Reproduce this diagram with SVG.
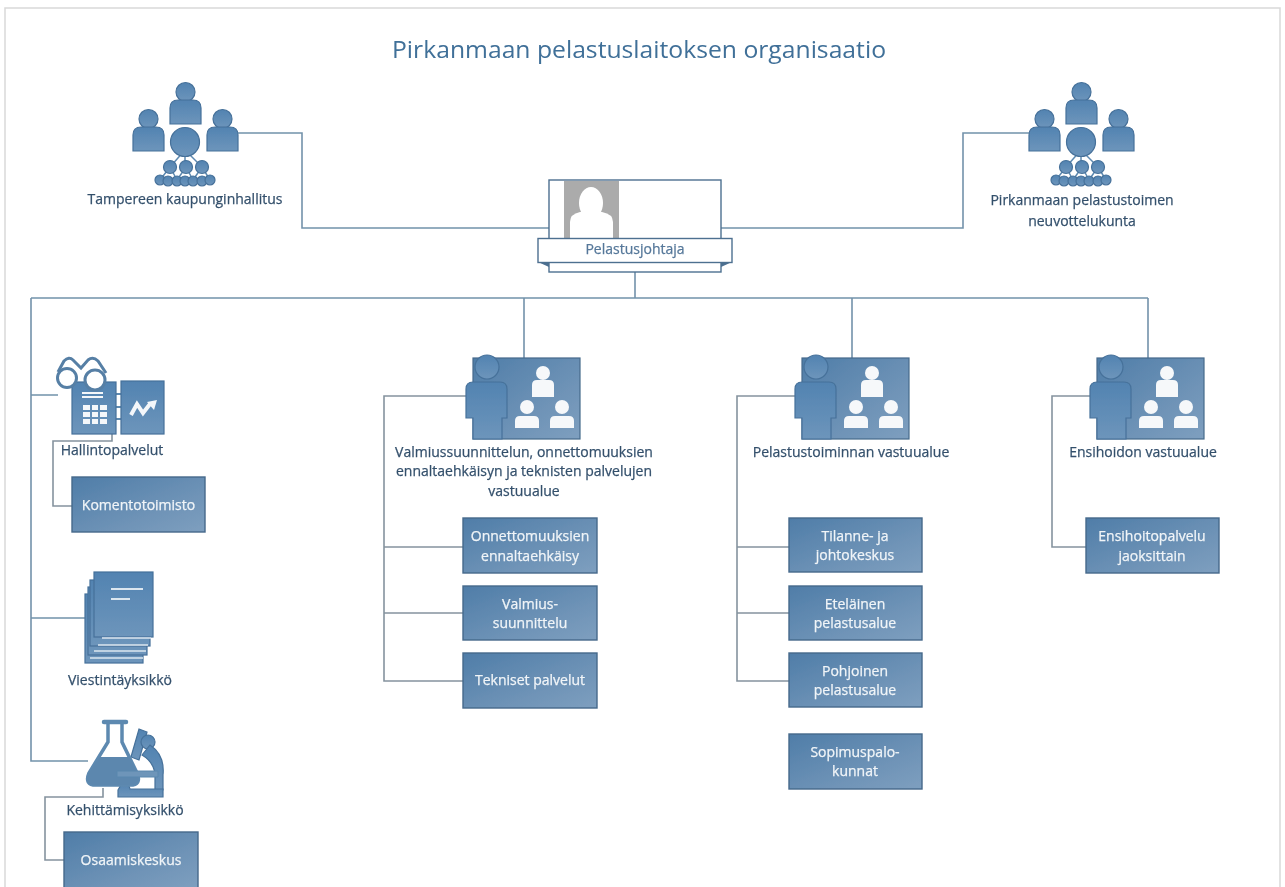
<svg xmlns="http://www.w3.org/2000/svg" width="1285" height="887" viewBox="0 0 1285 887">
<style>
text{font-family:"Open Sans","Noto Sans","Liberation Sans",sans-serif;font-size:14px;fill:#34506c;stroke:#34506c;stroke-width:.25;text-anchor:middle}
.title{font-size:24.5px;fill:#3f6f98;stroke:none}
text.l{fill:#f1f5f8;stroke:#f1f5f8}
.w{fill:#f4f7fa}
.box{fill:url(#bg);stroke:#46698b;stroke-width:1.4}
.ic{fill:url(#ig);stroke:#46719a;stroke-width:1.2}
.con{fill:none;stroke:#7392ab;stroke-width:1.6}
.gr{fill:none;stroke:#85939e;stroke-width:1.6}
.card{fill:#fff;stroke:#4d6f90;stroke-width:1.4}
.wf{fill:#f6f8fa}
</style>
<defs>
<linearGradient id="bg" x1="0" y1="0" x2="1" y2="1"><stop offset="0" stop-color="#4f7da8"/><stop offset=".6" stop-color="#6d92b6"/><stop offset="1" stop-color="#7e9fbf"/></linearGradient>
<linearGradient id="ig" x1="0" y1="0" x2="0" y2="1"><stop offset="0" stop-color="#5283b1"/><stop offset="1" stop-color="#6d95bb"/></linearGradient>
<filter id="soft" x="-2%" y="-2%" width="104%" height="104%"><feGaussianBlur stdDeviation="0.5"/></filter>
<g id="p"><circle cx="15.500" cy="9" r="9.500" class="ic"/><path d="M0 41V25Q0 17 8 17H23Q31 17 31 25V41Z" class="ic"/></g>
<g id="council">
<path d="M185 150L170 167M185 150V167M185 150L202 167M170 167L160 180M170 167L177 180M186 167L177 180M186 167L193 180M202 167L193 180M202 167L210 180" stroke="#5d89b0" stroke-width="1.500" fill="none"/>
<use href="#p" x="170" y="83"/><use href="#p" x="133" y="110"/><use href="#p" x="207" y="110"/>
<circle cx="185" cy="142" r="14.500" class="ic"/>
<circle cx="170" cy="167" r="6.500" class="ic"/><circle cx="186" cy="167" r="6.500" class="ic"/><circle cx="202" cy="167" r="6.500" class="ic"/>
<circle cx="160" cy="180" r="5" class="ic"/><circle cx="168" cy="181" r="5" class="ic"/><circle cx="177" cy="181" r="5" class="ic"/><circle cx="185" cy="181" r="5" class="ic"/><circle cx="193" cy="181" r="5" class="ic"/><circle cx="202" cy="181" r="5" class="ic"/><circle cx="210" cy="180" r="5" class="ic"/>
</g>
<g id="team">
<rect x="7" y="0" width="107" height="81" fill="url(#bg)" stroke="#46698b" stroke-width="1.200"/>
<g class="wf"><circle cx="77" cy="15" r="7"/><path d="M66 39V27Q66 22 71 22H83Q88 22 88 27V39Z"/>
<circle cx="61" cy="49" r="7"/><path d="M49 70V63Q49 58 54 58H68Q73 58 73 63V70Z"/>
<circle cx="96" cy="49" r="7"/><path d="M84 70V63Q84 58 89 58H103Q108 58 108 63V70Z"/></g>
<circle cx="21" cy="9" r="12" class="ic"/>
<path d="M0 60V31Q0 24 7 24H34Q41 24 41 31V60H36V81H7V60Z" class="ic"/>
</g>
</defs>
<rect width="1285" height="887" fill="#fff"/>
<g filter="url(#soft)">
<path d="M5 887V8H1280V887" fill="none" stroke="#d9d9d9" stroke-width="1.500"/>
<text class="title" x="639" y="58" textLength="494" lengthAdjust="spacingAndGlyphs">Pirkanmaan pelastuslaitoksen organisaatio</text>

<g id="connectors">
<path class="con" d="M238 133H302V228H549"/>
<path class="con" d="M721 228H963V133H1030"/>
<path class="con" d="M635 272V298M31 298H1148M524 298V358M852 298V358M1148 298V358"/>
<path class="con" d="M31 298V761H88M31 395H58M31 618H85"/>
<path class="gr" d="M112 434V441H53V506H72"/>
<path class="gr" d="M103 788V797H45V860H64"/>
<path class="gr" d="M466 396H384V681H463M384 547H463M384 613H463"/>
<path class="gr" d="M795 396H737V681H789M737 547H789M737 613H789"/>
<path class="gr" d="M1090 396H1052V547H1086"/>
</g>

<g id="n-hallitus"><use href="#council"/><text x="185" y="204">Tampereen kaupunginhallitus</text></g>
<g id="n-neuvottelukunta"><use href="#council" x="896"/><text x="1082" y="205">Pirkanmaan pelastustoimen</text><text x="1082" y="226">neuvottelukunta</text></g>

<g id="n-johtaja">
<path d="M538 262L549 267H560V258H538ZM732 262L721 267H710V258H732Z" fill="#4d6f90"/>
<rect x="549" y="180" width="172" height="92" class="card"/>
<rect x="564" y="181" width="55" height="58" fill="#ababab"/>
<ellipse cx="591" cy="203" rx="12" ry="16" fill="#fff"/>
<path d="M570 239V222Q570 214 580 212H602Q613 214 613 222V239Z" fill="#fff"/>
<rect x="538" y="238.500" width="194" height="24" class="card"/>
<text x="635" y="254" style="fill:#56789a;stroke:#56789a">Pelastusjohtaja</text>
</g>

<g id="n-hallinto">
<path d="M116 394h5M116 407h5M116 419h5" stroke="#5d89b0" stroke-width="2" fill="none"/>
<rect x="72" y="382" width="44" height="52" class="ic"/>
<rect x="121" y="381" width="43" height="53" class="ic"/>
<path d="M131 415L137 404L143 413L150 404" fill="none" stroke="#f4f7fa" stroke-width="4"/>
<path d="M147 402L157 400L154 410Z" class="w"/>
<rect x="82" y="392" width="21" height="2" class="w"/><rect x="82" y="396" width="21" height="2" class="w"/>
<path d="M83 405h7v5h-7zM92 405h6v5h-6zM100 405h7v5h-7zM83 412h7v5h-7zM92 412h6v5h-6zM100 412h7v5h-7zM83 419h7v5h-7zM92 419h6v5h-6zM100 419h7v5h-7z" class="w"/>
<g fill="#fff" stroke="#567fa5" stroke-width="3"><path d="M58 372L64 361Q69 356 73 360L81 368L88 360Q93 356 98 361L106 373" fill="none"/><circle cx="67" cy="378" r="9.500"/><circle cx="95" cy="380" r="10"/></g>
<text x="112" y="455">Hallintopalvelut</text>
</g>
<g id="n-komento"><rect x="72" y="477" width="133" height="55" class="box"/><text class="l" x="138.500" y="510">Komentotoimisto</text></g>

<g id="n-viestinta">
<rect x="85" y="594" width="58" height="69" class="ic"/>
<rect x="88" y="587" width="59" height="68" class="ic"/>
<rect x="90" y="580" width="60" height="66" class="ic"/>
<rect x="94" y="572" width="59" height="65" class="ic"/>
<path d="M111 589H143M111 599H130" stroke="#dbe6ef" stroke-width="2"/>
<path d="M102 638H151M98 645H148M94 651H146M90 658H143" stroke="#dbe6ef" stroke-width="1.300"/>
<text x="120" y="685">Viestintäyksikkö</text>
</g>

<g id="n-kehitys">
<path d="M139 729L147 732L139 760L131 757Z" class="ic"/>
<circle cx="148" cy="742" r="7" class="ic"/>
<path d="M150 745Q165 755 163 775V790H155V775Q154 762 142 755Z" class="ic"/>
<path d="M118 790L122 783H128L130 789H163V797H118Z" class="ic"/>
<path d="M108 723V742L89 773Q84 785 96 785H130Q142 785 137 773L122 742V723" fill="#fff" stroke="#5d89b0" stroke-width="3.500"/>
<path d="M104 722H126" stroke="#5d89b0" stroke-width="4.500" stroke-linecap="round"/>
<path d="M100 757H130L137 773Q142 785 130 785H96Q84 785 89 773Z" fill="#5b87ae"/>
<path d="M117 771H158V777H117Z" fill="#6e95b9" stroke="#5b87ae"/>
<text x="125" y="815">Kehittämisyksikkö</text>
</g>
<g id="n-osaaminen"><rect x="64" y="832" width="134" height="56" class="box"/><text class="l" x="131" y="865">Osaamiskeskus</text></g>

<g id="n-valmius"><use href="#team" x="466" y="358"/><text x="524" y="457">Valmiussuunnittelun, onnettomuuksien</text><text x="524" y="476">ennaltaehkäisyn ja teknisten palvelujen</text><text x="524" y="496">vastuualue</text></g>
<g id="n-ennalta"><rect x="463" y="518" width="134" height="55" class="box"/><text class="l" x="530" y="541">Onnettomuuksien</text><text class="l" x="530" y="561">ennaltaehkäisy</text></g>
<g id="n-suunnittelu"><rect x="463" y="586" width="134" height="54" class="box"/><text class="l" x="530" y="609">Valmius-</text><text class="l" x="530" y="628">suunnittelu</text></g>
<g id="n-tekniset"><rect x="463" y="653" width="134" height="55" class="box"/><text class="l" x="530" y="685">Tekniset palvelut</text></g>

<g id="n-pelastus"><use href="#team" x="795" y="358"/><text x="851" y="457">Pelastustoiminnan vastuualue</text></g>
<g id="n-tilanne"><rect x="789" y="518" width="133" height="54" class="box"/><text class="l" x="855" y="541">Tilanne- ja</text><text class="l" x="855" y="560">johtokeskus</text></g>
<g id="n-etela"><rect x="789" y="586" width="133" height="54" class="box"/><text class="l" x="855" y="609">Eteläinen</text><text class="l" x="855" y="628">pelastusalue</text></g>
<g id="n-pohjoinen"><rect x="789" y="653" width="133" height="54" class="box"/><text class="l" x="855" y="676">Pohjoinen</text><text class="l" x="855" y="695">pelastusalue</text></g>
<g id="n-sopimus"><rect x="789" y="734" width="133" height="55" class="box"/><text class="l" x="855" y="757">Sopimuspalo-</text><text class="l" x="855" y="776">kunnat</text></g>

<g id="n-ensihoito"><use href="#team" x="1090" y="358"/><text x="1143" y="457">Ensihoidon vastuualue</text></g>
<g id="n-jaoksittain"><rect x="1086" y="518" width="133" height="55" class="box"/><text class="l" x="1152" y="541">Ensihoitopalvelu</text><text class="l" x="1152" y="561">jaoksittain</text></g>
</g>
</svg>
